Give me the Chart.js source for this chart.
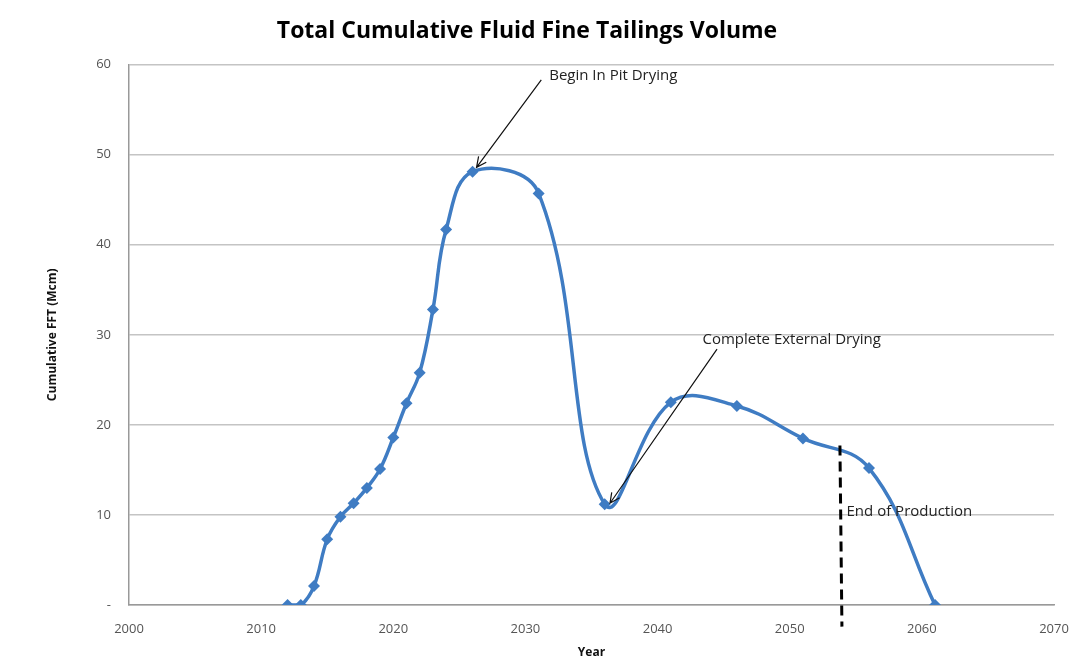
<!DOCTYPE html>
<html>
<head>
<meta charset="utf-8">
<script src="https://cdn.jsdelivr.net/npm/chart.js@4/dist/chart.umd.min.js"></script>
<style>
  body { margin: 0; background: #fff; }
  #wrap { width: 1070px; height: 672px; }
</style>
</head>
<body>
<div id="wrap"><canvas id="fftChart" width="1070" height="672"></canvas></div>
<script>
// Years and cumulative FFT volume (Mcm)
const years = [2012, 2013, 2014, 2015, 2016, 2017, 2018, 2019, 2020, 2021, 2022, 2023, 2024, 2026, 2031, 2036, 2041, 2046, 2051, 2056, 2061];
const fftVolume = [0, 0, 2.1, 7.3, 9.8, 11.3, 13.0, 15.1, 18.6, 22.4, 25.8, 32.8, 41.7, 48.1, 45.7, 11.2, 22.5, 22.1, 18.5, 15.2, 0];

// Callout labels (year, value) and arrows (tail -> head)
const calloutText = ['Begin In Pit Drying', 'Complete External Drying'];
const calloutTextAt = [[2031.8, 58.8], [2043.4, 29.4]];
const calloutTail = [[2031.2, 58.3], [2044.5, 28.4]];
const calloutHead = [[2026.3, 48.6], [2036.4, 11.3]];

// End of production marker
const endOfProductionYear = 2053.8;
const endLineRange = [17.7, -2.4];
const endLabel = 'End of Production';
const endLabelAt = [2054.3, 10.4];

const FONT = '"Open Sans", sans-serif';

const annotations = {
    id: 'annotations',
    afterDatasetsDraw(chart) {
        const { ctx, scales: { x, y } } = chart;
        ctx.save();

        // arrows
        ctx.strokeStyle = '#111';
        ctx.lineWidth = 1.2;
        calloutTail.forEach((tail, i) => {
            const x1 = x.getPixelForValue(tail[0]), y1 = y.getPixelForValue(tail[1]);
            const x2 = x.getPixelForValue(calloutHead[i][0]), y2 = y.getPixelForValue(calloutHead[i][1]);
            ctx.beginPath();
            ctx.moveTo(x1, y1);
            ctx.lineTo(x2, y2);
            const ang = Math.atan2(y2 - y1, x2 - x1);
            const len = 11;
            ctx.moveTo(x2 - len * Math.cos(ang - 0.45), y2 - len * Math.sin(ang - 0.45));
            ctx.lineTo(x2, y2);
            ctx.lineTo(x2 - len * Math.cos(ang + 0.45), y2 - len * Math.sin(ang + 0.45));
            ctx.stroke();
        });

        // dashed end-of-production line
        const ex = x.getPixelForValue(endOfProductionYear);
        ctx.strokeStyle = '#000';
        ctx.lineWidth = 3;
        ctx.setLineDash([10, 6]);
        ctx.beginPath();
        ctx.moveTo(ex, y.getPixelForValue(endLineRange[0]));
        ctx.lineTo(ex + 2, y.getPixelForValue(endLineRange[1]));
        ctx.stroke();
        ctx.setLineDash([]);

        // labels
        ctx.fillStyle = '#222';
        ctx.font = '15px ' + FONT;
        ctx.textAlign = 'left';
        ctx.textBaseline = 'middle';
        calloutText.forEach((t, i) => {
            ctx.fillText(t, x.getPixelForValue(calloutTextAt[i][0]), y.getPixelForValue(calloutTextAt[i][1]));
        });
        ctx.fillText(endLabel, x.getPixelForValue(endLabelAt[0]), y.getPixelForValue(endLabelAt[1]));
        ctx.restore();
    }
};

const ctx = document.getElementById('fftChart').getContext('2d');
new Chart(ctx, {
    type: 'line',
    data: {
        datasets: [{
            label: 'Cumulative FFT',
            data: years.map((yr, i) => ({ x: yr, y: fftVolume[i] })),
            borderColor: '#3f7cc3',
            backgroundColor: '#3f7cc3',
            borderWidth: 3.5,
            tension: 0.4,
            pointStyle: 'rectRot',
            pointRadius: 6,
            pointBorderWidth: 0
        }]
    },
    options: {
        responsive: false,
        animation: false,
        layout: { padding: { left: 0, right: 16, top: 0, bottom: 0 } },
        plugins: {
            legend: { display: false },
            tooltip: { enabled: false },
            title: {
                display: true,
                text: 'Total Cumulative Fluid Fine Tailings Volume',
                color: '#000',
                font: { family: FONT, size: 23, weight: 'bold' },
                padding: { top: 18, bottom: 19 }
            }
        },
        scales: {
            x: {
                type: 'linear',
                min: 2000,
                max: 2070,
                afterFit: scale => {
                    scale.height = 67;
                    scale.paddingLeft = 0;
                    scale.paddingRight = 0;
                },
                ticks: {
                    stepSize: 10,
                    color: '#555',
                    padding: 16,
                    font: { family: FONT, size: 13 },
                    callback: v => String(v)
                },
                grid: { display: false, drawTicks: false },
                border: { display: true, color: '#999', width: 1.5 },
                title: {
                    display: true,
                    text: 'Year',
                    color: '#111',
                    font: { family: FONT, size: 12, weight: 'bold' },
                    padding: { top: 4, bottom: 12 }
                }
            },
            y: {
                min: 0,
                max: 60,
                afterFit: scale => { scale.width = 129; },
                ticks: {
                    stepSize: 10,
                    color: '#555',
                    padding: 18,
                    font: { family: FONT, size: 13 },
                    callback: v => v === 0 ? '-' : v
                },
                grid: { color: '#c4c4c4', lineWidth: 1.5, drawTicks: false },
                border: { display: true, color: '#999', width: 1.5 },
                title: {
                    display: true,
                    text: 'Cumulative FFT (Mcm)',
                    color: '#111',
                    font: { family: FONT, size: 12, weight: 'bold' },
                    padding: { top: 45, bottom: 0 }
                }
            }
        }
    },
    plugins: [annotations]
});
</script>
</body>
</html>
